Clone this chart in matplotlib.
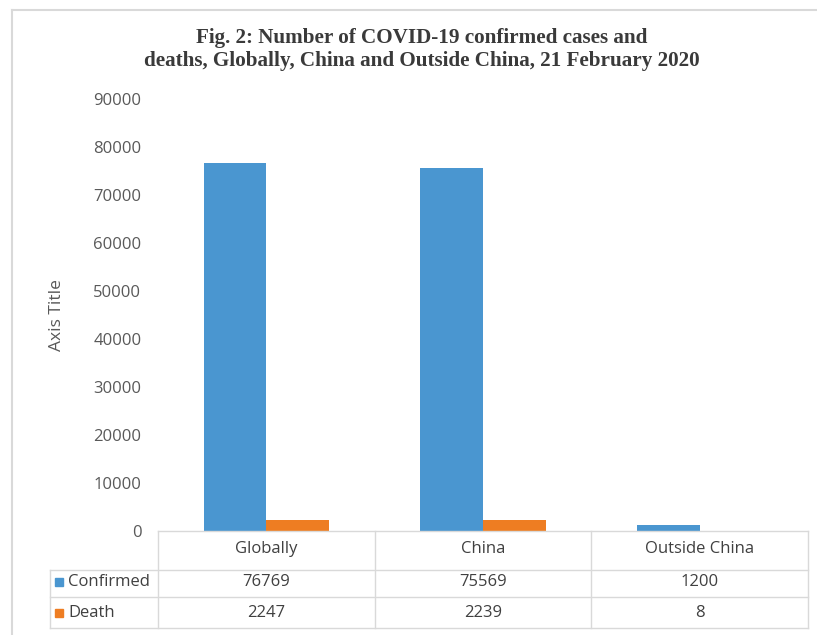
import matplotlib.pyplot as plt
from matplotlib.patches import Rectangle
from matplotlib.lines import Line2D

categories = ["Globally", "China", "Outside China"]
confirmed = [76769, 75569, 1200]
death = [2247, 2239, 8]
series_names = ["Confirmed", "Death"]
colors = ["#4A96D0", "#EE7D22"]
title_lines = ["Fig. 2: Number of COVID-19 confirmed cases and",
               "deaths, Globally, China and Outside China, 21 February 2020"]

W, H = 817, 635
fig = plt.figure(figsize=(W / 100, H / 100), dpi=100)


def fx(px):
    return px / W


def fy(py):
    return 1 - py / H


# outer chart border
fig.add_artist(Line2D([fx(12), fx(12)], [fy(10), 0], color="#D9D9D9", lw=1.5))
fig.add_artist(Line2D([fx(12), 1], [fy(10), fy(10)], color="#D9D9D9", lw=1.5))

left, right, top, bottom = 158, 808, 99, 531
ax = fig.add_axes([fx(left), fy(bottom), fx(right - left), fy(top) - fy(bottom)])

bw = 0.29
x = range(len(categories))
ax.bar([i - bw / 2 for i in x], confirmed, width=bw, color=colors[0])
ax.bar([i + bw / 2 for i in x], death, width=bw, color=colors[1])
ax.set_xlim(-0.5, len(categories) - 0.5)
ax.set_ylim(0, 90000)
ax.set_yticks(range(0, 90001, 10000))
ax.tick_params(axis="y", length=0, pad=12, labelsize=12, labelcolor="#595959")
ax.set_xticks([])
for s in ax.spines.values():
    s.set_visible(False)
for lbl in ax.get_yticklabels():
    lbl.set_fontfamily("Open Sans")

fig.text(fx(57), fy(315), "Axis Title", rotation=90, ha="center", va="center",
         fontsize=12.5, color="#595959", family="Open Sans")

for line, py in zip(title_lines, [38, 61]):
    fig.text(fx(422), fy(py), line, ha="center", va="center", fontsize=15.2,
             fontweight="bold", family="Liberation Serif", color="#3A3A3A")

# data table under the axis
grid = "#D9D9D9"
cols = [left, 375, 591, right]
rows = [bottom, 570, 597, 628]
fig.add_artist(Line2D([fx(left), fx(right)], [fy(bottom), fy(bottom)], color=grid, lw=1))
for r in rows[1:]:
    fig.add_artist(Line2D([fx(50), fx(right)], [fy(r), fy(r)], color=grid, lw=1))
for c in cols:
    fig.add_artist(Line2D([fx(c), fx(c)], [fy(bottom), fy(628)], color=grid, lw=1))
fig.add_artist(Line2D([fx(50), fx(50)], [fy(570), fy(628)], color=grid, lw=1))

tkw = dict(ha="center", va="center", fontsize=12, color="#404040", family="Open Sans")
for i, cat in enumerate(categories):
    cx = (cols[i] + cols[i + 1]) / 2
    fig.text(fx(cx), fy(549), cat, **tkw)
    fig.text(fx(cx), fy(582), str(confirmed[i]), **tkw)
    fig.text(fx(cx), fy(613), str(death[i]), **tkw)

for name, col, ry in zip(series_names, colors, [582, 613]):
    fig.add_artist(Rectangle((fx(55), fy(ry + 4)), fx(8), fy(ry - 4) - fy(ry + 4), color=col))
    fig.text(fx(68), fy(ry), name, ha="left", va="center", fontsize=12,
             color="#404040", family="Open Sans")

fig.savefig("out.png", dpi=100)
